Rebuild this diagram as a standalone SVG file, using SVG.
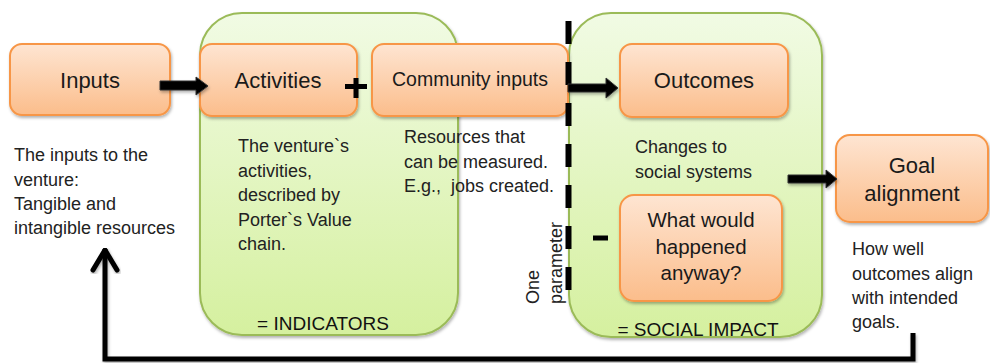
<svg xmlns="http://www.w3.org/2000/svg" width="990" height="363" viewBox="0 0 990 363">
  <defs>
    <linearGradient id="gOrange" x1="0" y1="0" x2="0" y2="1">
      <stop offset="0" stop-color="#fee5d2"/>
      <stop offset="1" stop-color="#fbbd8b"/>
    </linearGradient>
    <linearGradient id="gGreen" x1="0" y1="0" x2="0" y2="1">
      <stop offset="0" stop-color="#f1fbe4"/>
      <stop offset="1" stop-color="#d5f09f"/>
    </linearGradient>
    <filter id="shadow" x="-10%" y="-10%" width="125%" height="130%">
      <feDropShadow dx="1" dy="2" stdDeviation="1.5" flood-color="#000" flood-opacity="0.3"/>
    </filter>
  </defs>
  <style>
    .box { fill: url(#gOrange); stroke: #f79646; stroke-width: 2; filter: url(#shadow); }
    .cont { fill: url(#gGreen); stroke: #9bbb59; stroke-width: 2; filter: url(#shadow); }
    .lbl { font-family: "Liberation Sans", Arial, sans-serif; fill: #1a1a1a; text-anchor: middle; }
    .desc { font-family: "Liberation Sans", Arial, sans-serif; font-size: 18px; fill: #222; }
    .big { font-family: "Liberation Sans", Arial, sans-serif; font-size: 19px; fill: #111; text-anchor: middle; }
    .blk { fill: #000; stroke: #333; stroke-width: 1; filter: url(#shadow); }
    .ln { fill: none; stroke: #000; stroke-width: 5; }
  </style>

  <!-- containers -->
  <g id="indicators">
    <rect class="cont" x="200" y="13" width="258" height="322" rx="42" ry="42"/>
    <text class="big" x="323" y="330">= INDICATORS</text>
  </g>
  <g id="social-impact">
    <rect class="cont" x="569" y="13" width="253" height="324" rx="42" ry="42"/>
    <text class="big" x="698" y="336">= SOCIAL IMPACT</text>
  </g>

  <!-- nodes -->
  <g id="inputs">
    <rect class="box" x="10" y="44" width="160" height="71" rx="12" ry="12"/>
    <text class="lbl" x="90" y="88" font-size="22">Inputs</text>
    <text class="desc" x="14" y="161">The inputs to the</text>
    <text class="desc" x="14" y="185.5">venture:</text>
    <text class="desc" x="14" y="210">Tangible and</text>
    <text class="desc" x="14" y="234">intangible resources</text>
  </g>
  <g id="activities">
    <rect class="box" x="200" y="44" width="157" height="72" rx="12" ry="12"/>
    <text class="lbl" x="278" y="88" font-size="22">Activities</text>
    <text class="desc" x="238" y="152">The venture`s</text>
    <text class="desc" x="238" y="176.5">activities,</text>
    <text class="desc" x="238" y="201">described by</text>
    <text class="desc" x="238" y="225.5">Porter`s Value</text>
    <text class="desc" x="238" y="250">chain.</text>
  </g>
  <g id="community-inputs">
    <rect class="box" x="372" y="44" width="196" height="72" rx="12" ry="12"/>
    <text class="lbl" x="470" y="86" font-size="19.5">Community inputs</text>
    <text class="desc" x="404" y="143">Resources that</text>
    <text class="desc" x="404" y="167.5">can be measured.</text>
    <text class="desc" x="404" y="192">E.g.,&#160; jobs created.</text>
  </g>
  <g id="outcomes">
    <rect class="box" x="620" y="44" width="168" height="73" rx="12" ry="12"/>
    <text class="lbl" x="704" y="88" font-size="22">Outcomes</text>
    <text class="desc" x="635" y="153">Changes to</text>
    <text class="desc" x="635" y="177.5">social systems</text>
  </g>
  <g id="counterfactual">
    <rect class="box" x="620" y="195" width="162" height="106" rx="14" ry="14"/>
    <text class="lbl" x="701" y="227" font-size="20.5">What would</text>
    <text class="lbl" x="701" y="254" font-size="20.5">happened</text>
    <text class="lbl" x="701" y="280" font-size="20.5">anyway?</text>
  </g>
  <g id="goal-alignment">
    <rect class="box" x="836" y="135" width="152" height="87" rx="14" ry="14"/>
    <text class="lbl" x="912" y="173" font-size="22">Goal</text>
    <text class="lbl" x="912" y="201" font-size="22">alignment</text>
    <text class="desc" x="852" y="255">How well</text>
    <text class="desc" x="852" y="279.5">outcomes align</text>
    <text class="desc" x="852" y="304">with intended</text>
    <text class="desc" x="852" y="328">goals.</text>
  </g>
  <g id="one-parameter">
    <text class="desc" transform="translate(539,304) rotate(-90)">One</text>
    <text class="desc" transform="translate(562,304) rotate(-90)">parameter</text>
  </g>

  <!-- connectors -->
  <g id="connectors">
    <line x1="568.5" y1="21" x2="568.5" y2="292" stroke="#000" stroke-width="6" stroke-dasharray="23 18"/>
    <path class="blk" d="M160,81 H196 V77 L208,86 L196,95 V90 H160 Z"/>
    <path class="blk" d="M568,84 H606 V78 L618,88 L606,98 V92 H568 Z"/>
    <path class="blk" d="M788,175 H826 V170 L837,179 L826,188 V183 H788 Z"/>
    <path d="M345,86.5 H367 M356,78 V98" stroke="#000" stroke-width="5" fill="none"/>
    <path d="M593,238 H608" stroke="#000" stroke-width="5" fill="none"/>
    <path class="ln" d="M913,333 V359 H105 V249" stroke-linejoin="miter" filter="url(#shadow)"/>
    <path class="ln" d="M93,270 L105,250 L117,270" stroke-linecap="round" stroke-linejoin="miter" filter="url(#shadow)"/>
  </g>
</svg>
